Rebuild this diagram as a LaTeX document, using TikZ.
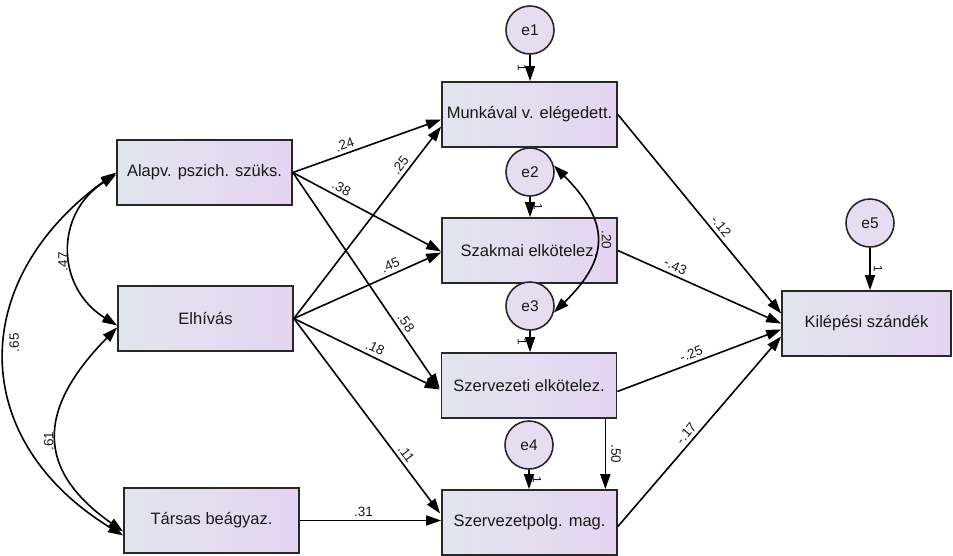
\documentclass[tikz,border=0pt]{standalone}
\usepackage{fontspec}
\setmainfont{Liberation Sans}
\usetikzlibrary{arrows.meta}
\definecolor{boxL}{RGB}{226,229,237}
\definecolor{boxR}{RGB}{229,212,242}
\definecolor{errC}{RGB}{231,221,243}
\definecolor{edgeC}{RGB}{40,40,40}
\definecolor{txtC}{RGB}{25,25,25}
\begin{document}
\begin{tikzpicture}[x=1pt,y=-1pt,
  var/.style={draw=edgeC, line width=1.7pt, left color=boxL, right color=boxR,
    minimum width=175pt, minimum height=65pt, inner sep=0pt, text=txtC,
    font=\fontsize{16.5}{18}\selectfont},
  err/.style={circle, draw=edgeC, line width=1.6pt, fill=errC, minimum size=48pt,
    inner sep=0pt, text=txtC, font=\fontsize{15.5}{17}\selectfont},
  reg/.style={draw=black, line width=1.6pt, -{Triangle[length=15pt,width=10pt]}},
  cov/.style={draw=black, line width=1.6pt,
    {Triangle[length=15pt,width=10pt]}-{Triangle[length=15pt,width=10pt]}},
  lab/.style={font=\fontsize{13.5}{15}\selectfont, sloped, above, inner sep=3.5pt, text=txtC},
  one/.style={font=\fontsize{12}{13}\selectfont, sloped, inner sep=3pt, text=txtC},
  clab/.style={font=\fontsize{13.5}{15}\selectfont, inner sep=3pt, text=txtC}]
\useasboundingbox (0,0) rectangle (953,555);
\fill[white] (0,0) rectangle (953,555);

% observed variables
\node[var] (alapv) at (204.5,172.5) {Alapv. pszich. szüks.};
\node[var] (elh)   at (205.5,318.5) {Elhívás};
\node[var] (tars)  at (211.5,520.5) {Társas beágyaz.};
\node[var] (munk)  at (529.5,114.5) {Munkával v. elégedett.};
\node[var] (szak)  at (529.5,250.5) {Szakmai elkötelez.};
\node[var] (szerv) at (529,385.5)   {Szervezeti elkötelez.};
\node[var] (polg)  at (529.5,522.5) {Szervezetpolg. mag.};
\node[var, minimum width=169pt] (kil) at (866.5,323.5) {Kilépési szándék};

% error terms
\node[err] (e1) at (530,30)  {e1};
\node[err] (e2) at (530,172) {e2};
\node[err] (e3) at (530,306) {e3};
\node[err] (e4) at (529,445) {e4};
\node[err] (e5) at (870,223) {e5};

% error paths
\draw[reg] (e1.south) -- (e1.south |- munk.north) node[one, midway, below]{1};
\draw[reg] (e2.south) -- (e2.south |- szak.north) node[one, midway, above]{1};
\draw[reg] (e3.south) -- (e3.south |- szerv.north) node[one, midway, below]{1};
\draw[reg] (e4.south) -- (e4.south |- polg.north) node[one, midway, above]{1};
\draw[reg] (e5.south) -- (e5.south |- kil.north) node[one, midway, above]{1};

% regressions from predictors
\draw[reg] (alapv.east) -- ([yshift=-5pt]munk.west) node[lab, pos=0.37]{.24};
\draw[reg] (alapv.east) -- ([yshift=-1pt]szak.west) node[lab, pos=0.3]{.38};
\draw[reg] (alapv.east) -- ([yshift=-3pt,xshift=-1pt]szerv.west) node[lab, pos=0.72]{.58};
\draw[reg] (elh.east) -- ([yshift=-12pt]munk.west) node[lab, pos=0.77]{.25};
\draw[reg] (elh.east) -- ([yshift=-2pt]szak.west) node[lab, pos=0.68]{.45};
\draw[reg] (elh.east) -- ([yshift=-4pt,xshift=-1pt]szerv.west) node[lab, pos=0.53]{.18};
\draw[reg] (elh.east) -- ([yshift=9pt,xshift=-1pt]polg.west) node[lab, pos=0.72]{.11};
\draw[reg] (tars.east) -- (tars.east -| polg.west) node[lab, pos=0.45]{.31};

% to Kilépési szándék
\draw[reg] (munk.east) -- ([yshift=10pt]kil.west) node[lab, pos=0.59]{-.12};
\draw[reg] (szak.east) -- ([yshift=0pt]kil.west) node[lab, pos=0.33]{-.43};
\draw[reg] ([yshift=-6pt]szerv.east) -- ([yshift=-6pt]kil.west) node[lab, pos=0.47]{-.25};
\draw[reg] ([yshift=-4pt]polg.east) -- ([yshift=-13pt]kil.west) node[lab, pos=0.46]{-.17};

% Szervezeti -> Szervezetpolg
\draw[reg] ([xshift=-12pt]szerv.south east) -- ([xshift=-12pt]szerv.south east |- polg.north)
  node[lab, midway, inner sep=5pt]{.50};

% covariances
\draw[cov] (e2.15) .. controls (610,222) and (610,258) .. (e3.-15)
  node[clab, pos=0.5, rotate=-90, anchor=south, inner sep=5pt]{.20};
\draw[cov] ([yshift=-2pt]alapv.west) .. controls (55,213) and (55,287) .. ([yshift=-7pt]elh.west)
  node[clab, pos=0.57, rotate=90, anchor=south]{.47};
\draw[cov] ([yshift=-9pt]elh.west) .. controls (36,410) and (36,470) .. ([yshift=-11pt]tars.west)
  node[clab, pos=0.52, rotate=90, anchor=south]{.61};
\draw[cov] (alapv.west) .. controls (-33,280) and (-33,440) .. ([yshift=-15pt]tars.west)
  node[clab, pos=0.46, rotate=90, anchor=north]{.65};
\end{tikzpicture}
\end{document}
